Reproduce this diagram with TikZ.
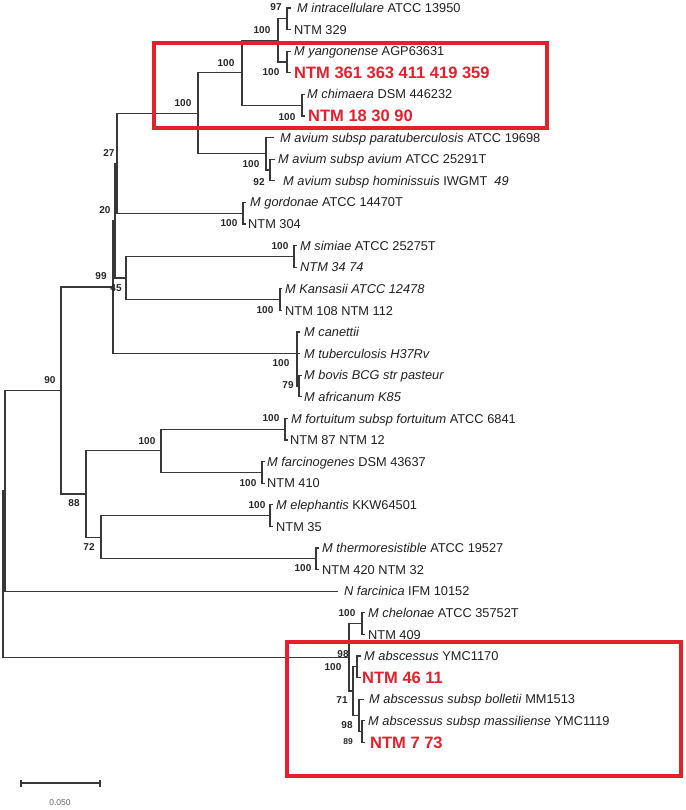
\documentclass[tikz,border=0pt]{standalone}
\usepackage{fontspec}
\setmainfont{Liberation Sans}
\definecolor{treegray}{HTML}{383838}
\definecolor{hired}{HTML}{E3202B}
\begin{document}
\begin{tikzpicture}[x=1pt,y=-1pt,
  br/.style={draw=treegray, line width=1.3pt},
  leaf/.style={anchor=base west, inner sep=0pt, yshift=-4.6pt, text=black!88, font=\fontsize{12.8}{14}\selectfont},
  hl/.style={anchor=base west, inner sep=0pt, yshift=-5.9pt, text=hired, font=\fontsize{16.5}{18}\selectfont\bfseries},
  bs/.style={inner sep=0pt, text=black!85, font=\fontsize{10}{11}\selectfont\bfseries},
  redbox/.style={draw=hired, line width=3.2pt}]
\useasboundingbox (0,0) rectangle (685,810);

% ---- tips ----
\coordinate (t1) at (291,8);      \coordinate (t2) at (291,29.6);
\coordinate (t3) at (291,51.2);   \coordinate (t4) at (291,72.8);
\coordinate (t5) at (305,94.4);   \coordinate (t6) at (305,116);
\coordinate (t7) at (274,137.6);  \coordinate (t8) at (275,159.2);
\coordinate (t9) at (275,180.8);  \coordinate (t10) at (246,202.4);
\coordinate (t11) at (246,224);   \coordinate (t12) at (297,245.6);
\coordinate (t13) at (297,267.2); \coordinate (t14) at (282,288.8);
\coordinate (t15) at (282,310.4); \coordinate (t16) at (300,332);
\coordinate (t17) at (300,353.6); \coordinate (t18) at (302,375.2);
\coordinate (t19) at (302,396.8); \coordinate (t20) at (288,418.4);
\coordinate (t21) at (288,440);   \coordinate (t22) at (265,461.6);
\coordinate (t23) at (265,483.2); \coordinate (t24) at (273,504.8);
\coordinate (t25) at (273,526.4); \coordinate (t26) at (319,548);
\coordinate (t27) at (319,569.6); \coordinate (t28) at (338,591.2);
\coordinate (t29) at (365,612.8); \coordinate (t30) at (365,634.4);
\coordinate (t31) at (361,656);   \coordinate (t32) at (361,677.6);
\coordinate (t33) at (364,699.2); \coordinate (t34) at (365,720.8);
\coordinate (t35) at (365,742.4);

% ---- internal nodes ----
\coordinate (nA) at (287,18.8);
\coordinate (nB) at (287,62);
\coordinate (nAB) at (278,40.4);
\coordinate (nChi) at (302,105.2);
\coordinate (nC) at (242,72.8);
\coordinate (nAv2) at (270,170);
\coordinate (nAv) at (266,153.8);
\coordinate (nD) at (198,113.3);
\coordinate (nGor) at (243,213.2);
\coordinate (n27) at (117,163.3);
\coordinate (nSim) at (294,256.4);
\coordinate (nKan) at (280,299.6);
\coordinate (n45) at (126,278);
\coordinate (n20) at (115,220.6);
\coordinate (nTB79) at (299,386);
\coordinate (nTB) at (297,353.6);
\coordinate (n99) at (113,287.1);
\coordinate (nFor) at (285,429.2);
\coordinate (nFar) at (262,472.4);
\coordinate (n100b) at (161,450.8);
\coordinate (nEle) at (270,515.6);
\coordinate (nThe) at (316,558.8);
\coordinate (n72) at (101,537.2);
\coordinate (n88) at (86,494);
\coordinate (n90) at (61,390.5);
\coordinate (nIn) at (5,490.9);
\coordinate (nChe) at (362,623.6);
\coordinate (nAbs98) at (357,666.8);
\coordinate (n89) at (362,731.6);
\coordinate (nBol) at (359,715.4);
\coordinate (nAbsG) at (353,691);
\coordinate (nCA) at (349,657.3);
\coordinate (nRoot) at (3,573);

% ---- branches ----
\draw[br] (nA) |- (t1); \draw[br] (nA) |- (t2);
\draw[br] (nB) |- (t3); \draw[br] (nB) |- (t4);
\draw[br] (nAB) |- (nA); \draw[br] (nAB) |- (nB);
\draw[br] (nChi) |- (t5); \draw[br] (nChi) |- (t6);
\draw[br] (nC) |- (nAB); \draw[br] (nC) |- (nChi);
\draw[br] (nAv2) |- (t8); \draw[br] (nAv2) |- (t9);
\draw[br] (nAv) |- (t7); \draw[br] (nAv) |- (nAv2);
\draw[br] (nD) |- (nC); \draw[br] (nD) |- (nAv);
\draw[br] (nGor) |- (t10); \draw[br] (nGor) |- (t11);
\draw[br] (n27) |- (nD); \draw[br] (n27) |- (nGor);
\draw[br] (nSim) |- (t12); \draw[br] (nSim) |- (t13);
\draw[br] (nKan) |- (t14); \draw[br] (nKan) |- (t15);
\draw[br] (n45) |- (nSim); \draw[br] (n45) |- (nKan);
\draw[br] (n20) |- (n27); \draw[br] (n20) |- (n45);
\draw[br] (nTB79) |- (t18); \draw[br] (nTB79) |- (t19);
\draw[br] (nTB) |- (t16); \draw[br] (nTB) |- (t17); \draw[br] (nTB) |- (nTB79);
\draw[br] (n99) |- (n20); \draw[br] (n99) |- (nTB);
\draw[br] (nFor) |- (t20); \draw[br] (nFor) |- (t21);
\draw[br] (nFar) |- (t22); \draw[br] (nFar) |- (t23);
\draw[br] (n100b) |- (nFor); \draw[br] (n100b) |- (nFar);
\draw[br] (nEle) |- (t24); \draw[br] (nEle) |- (t25);
\draw[br] (nThe) |- (t26); \draw[br] (nThe) |- (t27);
\draw[br] (n72) |- (nEle); \draw[br] (n72) |- (nThe);
\draw[br] (n88) |- (n100b); \draw[br] (n88) |- (n72);
\draw[br] (n90) |- (n99); \draw[br] (n90) |- (n88);
\draw[br] (nIn) |- (n90); \draw[br] (nIn) |- (t28);
\draw[br] (nChe) |- (t29); \draw[br] (nChe) |- (t30);
\draw[br] (nAbs98) |- (t31); \draw[br] (nAbs98) |- (t32);
\draw[br] (n89) |- (t34); \draw[br] (n89) |- (t35);
\draw[br] (nBol) |- (t33); \draw[br] (nBol) |- (n89);
\draw[br] (nAbsG) |- (nAbs98); \draw[br] (nAbsG) |- (nBol);
\draw[br] (nCA) |- (nChe); \draw[br] (nCA) |- (nAbsG);
\draw[br] (nRoot) |- (nIn); \draw[br] (nRoot) |- (nCA);

% ---- leaf labels ----
\node[leaf] (l1) at (297,8) {\textit{M intracellulare} ATCC 13950};
\node[leaf] (l2) at (294,29.6) {NTM 329};
\node[leaf] (l3) at (294,51.2) {\textit{M yangonense} AGP63631};
\node[hl]   (l4) at (294,72.8) {NTM 361 363 411 419 359};
\node[leaf] (l5) at (307,94.4) {\textit{M chimaera} DSM 446232};
\node[hl]   (l6) at (308,116) {NTM 18 30 90};
\node[leaf] (l7) at (280,137.6) {\textit{M avium subsp paratuberculosis} ATCC 19698};
\node[leaf] (l8) at (278,159.2) {\textit{M avium subsp avium} ATCC 25291T};
\node[leaf] (l9) at (283,180.8) {\textit{M avium subsp hominissuis} IWGMT\ \ \textit{49}};
\node[leaf] (l10) at (250,202.4) {\textit{M gordonae} ATCC 14470T};
\node[leaf] (l11) at (248,224) {NTM 304};
\node[leaf] (l12) at (300,245.6) {\textit{M simiae} ATCC 25275T};
\node[leaf] (l13) at (300,267.2) {\textit{NTM 34 74}};
\node[leaf] (l14) at (285,288.8) {\textit{M Kansasii ATCC 12478}};
\node[leaf] (l15) at (285,310.4) {NTM 108 NTM 112};
\node[leaf] (l16) at (304,332) {\textit{M canettii}};
\node[leaf] (l17) at (304,353.6) {\textit{M tuberculosis H37Rv}};
\node[leaf] (l18) at (304,375.2) {\textit{M bovis BCG str pasteur}};
\node[leaf] (l19) at (304,396.8) {\textit{M africanum K85}};
\node[leaf] (l20) at (291,418.4) {\textit{M fortuitum subsp fortuitum} ATCC 6841};
\node[leaf] (l21) at (290,440) {NTM 87 NTM 12};
\node[leaf] (l22) at (267,461.6) {\textit{M farcinogenes} DSM 43637};
\node[leaf] (l23) at (267,483.2) {NTM 410};
\node[leaf] (l24) at (276,504.8) {\textit{M elephantis} KKW64501};
\node[leaf] (l25) at (276,526.4) {NTM 35};
\node[leaf] (l26) at (322,548) {\textit{M thermoresistible} ATCC 19527};
\node[leaf] (l27) at (322,569.6) {NTM 420 NTM 32};
\node[leaf] (l28) at (344,591.2) {\textit{N farcinica} IFM 10152};
\node[leaf] (l29) at (368,612.8) {\textit{M chelonae} ATCC 35752T};
\node[leaf] (l30) at (368,634.4) {NTM 409};
\node[leaf] (l31) at (364,656) {\textit{M abscessus} YMC1170};
\node[hl]   (l32) at (362,677.6) {NTM 46 11};
\node[leaf] (l33) at (369,699.2) {\textit{M abscessus subsp bolletii} MM1513};
\node[leaf] (l34) at (368,720.8) {\textit{M abscessus subsp massiliense} YMC1119};
\node[hl]   (l35) at (370,742.4) {NTM 7 73};

% ---- bootstrap values ----
\node[bs] (b1) at (276,7) {97};
\node[bs] (b2) at (262,30) {100};
\node[bs] (b3) at (271,72) {100};
\node[bs] (b4) at (226,63) {100};
\node[bs] (b5) at (183,103) {100};
\node[bs] (b6) at (287,117) {100};
\node[bs] (b7) at (251,164) {100};
\node[bs] (b8) at (259,182) {92};
\node[bs] (b9) at (109,153) {27};
\node[bs] (b10) at (105,210) {20};
\node[bs] (b11) at (229,223) {100};
\node[bs] (b12) at (280,246) {100};
\node[bs] (b13) at (265,310) {100};
\node[bs] (b14) at (101,276) {99};
\node[bs] (b15) at (116,288) {45};
\node[bs] (b16) at (281,363) {100};
\node[bs] (b17) at (288,385) {79};
\node[bs] (b18) at (50,380) {90};
\node[bs] (b19) at (271,418) {100};
\node[bs] (b20) at (147,441) {100};
\node[bs] (b21) at (248,483) {100};
\node[bs] (b22) at (74,503) {88};
\node[bs] (b23) at (257,505) {100};
\node[bs] (b24) at (89,547) {72};
\node[bs] (b25) at (303,568) {100};
\node[bs] (b26) at (347,613) {100};
\node[bs] (b27) at (343,654) {98};
\node[bs] (b28) at (333,667) {100};
\node[bs] (b29) at (342,700) {71};
\node[bs] (b30) at (347,725) {98};
\node[bs, font=\fontsize{8.5}{10}\selectfont\bfseries] (b31) at (348,742) {89};

% ---- scale bar ----
\coordinate (sb1) at (21,783);
\coordinate (sb2) at (100,783);
\draw[br, line width=1.2pt] (sb1) -- (sb2);
\draw[br, line width=1.2pt] ([yshift=3.5pt]sb1) -- ([yshift=-3.5pt]sb1);
\draw[br, line width=1.2pt] ([yshift=3.5pt]sb2) -- ([yshift=-3.5pt]sb2);
\node[inner sep=0pt, text=black!60, font=\fontsize{8.5}{10}\selectfont] (sblab) at (60,803) {0.050};

% ---- highlight boxes ----
\draw[redbox] (154,43) rectangle (547,128);
\draw[redbox] (287,642) rectangle (681,776);
\end{tikzpicture}
\end{document}
